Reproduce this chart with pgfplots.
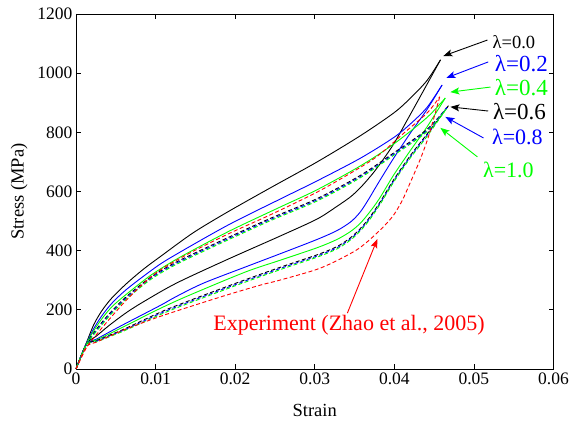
\documentclass[border=0pt]{standalone}
\usepackage{fontspec}
\setmainfont{Liberation Serif}
\usepackage{pgfplots}
\pgfplotsset{compat=1.18}
\usetikzlibrary{arrows.meta}
\definecolor{mgreen}{RGB}{0,255,0}
\definecolor{mblue}{RGB}{0,0,255}
\definecolor{mred}{RGB}{255,0,0}
\begin{document}
\begin{tikzpicture}
\useasboundingbox (-76bp,-53bp) rectangle (494bp,369bp);
\begin{axis}[
  scale only axis, width=477.5bp, height=355bp,
  xmin=0, xmax=0.06, ymin=0, ymax=1200,
  scaled x ticks=false, scaled y ticks=false,
  xtick={0,0.01,0.02,0.03,0.04,0.05,0.06},
  xticklabels={0,0.01,0.02,0.03,0.04,0.05,0.06},
  ytick={0,200,400,600,800,1000,1200},
  yticklabels={0,200,400,600,800,1000,1200},
  tick align=inside, major tick length=5bp,
  axis line style={line width=0.8bp},
  every tick/.style={black, line width=0.8bp},
  ticklabel style={font=\fontsize{17.5bp}{20bp}\selectfont},
  /pgf/number format/assume math mode=true,
  xlabel={Strain}, ylabel={Stress (MPa)},
  label style={font=\fontsize{18.5bp}{21bp}\selectfont},
  xlabel style={at={(axis description cs:0.5,-0.1155)}, anchor=center},
  ylabel style={at={(axis description cs:-0.119,0.5)}, anchor=center},
  clip=false,
  every axis plot/.append style={line width=0.9bp, smooth, tension=0.5},
  mdash/.style={dash pattern=on 4bp off 2.5bp},
]
% lambda = 0.0 (black solid)
\addplot[black] coordinates {(0,0) (0.0013,88) (0.0022,148) (0.0032,195) (0.0045,240) (0.0064,290) (0.0085,338) (0.0106,380) (0.0147,460) (0.019,530) (0.0244,612) (0.0303,700) (0.0357,788) (0.0399,865) (0.042,915) (0.0441,975) (0.0458,1045)};
\addplot[black] coordinates {(0.0458,1045) (0.0441,962) (0.042,860) (0.0399,760) (0.0379,682) (0.0368,645) (0.0357,612) (0.0345,582) (0.0328,550) (0.0303,507) (0.0257,450) (0.019,370) (0.0126,290) (0.0084,226) (0.0063,190) (0.0042,148) (0.0025,110) (0.0013,85) (0,0)};
% lambda = 0.2 (blue solid)
\addplot[mblue] coordinates {(0,0) (0.0013,86) (0.0022,135) (0.0032,178) (0.0045,222) (0.0063,268) (0.0093,330) (0.0118,375) (0.019,485) (0.0257,575) (0.0303,636) (0.0357,712) (0.0399,782) (0.042,828) (0.0441,884) (0.046,960)};
\addplot[mblue] coordinates {(0.046,960) (0.0441,877) (0.042,797) (0.0399,712) (0.0379,625) (0.0368,575) (0.0357,530) (0.0345,497) (0.0328,468) (0.0303,438) (0.0257,390) (0.0213,345) (0.016,290) (0.0126,245) (0.0106,215) (0.0063,155) (0.0042,125) (0.0025,100) (0.0013,84) (0,0)};
% lambda = 0.4 (green solid)
\addplot[mgreen] coordinates {(0,0) (0.0013,85) (0.0022,128) (0.0032,168) (0.0045,210) (0.0063,252) (0.0093,315) (0.0118,358) (0.0143,396) (0.0194,468) (0.0257,548) (0.0303,606) (0.0357,686) (0.0399,760) (0.0441,850) (0.0464,916)};
\addplot[mgreen] coordinates {(0.0464,916) (0.0441,818) (0.042,738) (0.0399,655) (0.0381,575) (0.0368,527) (0.0357,492) (0.0345,465) (0.0328,438) (0.0303,410) (0.0257,368) (0.0213,328) (0.0143,250) (0.0106,205) (0.0063,147) (0.0042,119) (0.0025,97) (0.0013,83) (0,0)};
% lambda = 0.6 (black dashed)
\addplot[black, mdash] coordinates {(0,0) (0.0013,85) (0.0022,121) (0.0032,156) (0.0045,196) (0.0063,244) (0.0093,309) (0.0118,350) (0.0143,384) (0.0194,448) (0.0244,509) (0.0303,576) (0.0357,654) (0.0399,730) (0.0441,810) (0.0468,890)};
\addplot[black, mdash] coordinates {(0.0468,890) (0.0441,794) (0.042,721) (0.0399,639) (0.0382,564) (0.0368,509) (0.0357,474) (0.0345,444) (0.0328,414) (0.0303,386) (0.026,347) (0.0213,302) (0.016,249) (0.0126,214) (0.0106,192) (0.0063,138) (0.0042,114) (0.0025,95) (0.0013,83) (0,0)};
% lambda = 0.8 (blue dashed)
\addplot[mblue, mdash] coordinates {(0,0) (0.0013,84) (0.0022,118) (0.0032,152) (0.0045,192) (0.0063,240) (0.0093,305) (0.0118,346) (0.0143,380) (0.0194,444) (0.0244,505) (0.0303,572) (0.0357,650) (0.0399,726) (0.0441,806) (0.0466,884)};
\addplot[mblue, mdash] coordinates {(0.0466,884) (0.0441,790) (0.042,717) (0.0399,635) (0.0382,560) (0.0368,505) (0.0357,470) (0.0345,440) (0.0328,410) (0.0303,382) (0.026,343) (0.0213,298) (0.016,245) (0.0126,210) (0.0106,188) (0.0063,135) (0.0042,112) (0.0025,93) (0.0013,82) (0,0)};
% lambda = 1.0 (green dashed)
\addplot[mgreen, mdash] coordinates {(0,0) (0.0013,83) (0.0022,115) (0.0032,148) (0.0045,188) (0.0063,236) (0.0093,301) (0.0118,342) (0.0143,376) (0.0194,440) (0.0244,501) (0.0303,568) (0.0357,646) (0.0399,722) (0.0441,802) (0.0465,878)};
\addplot[mgreen, mdash] coordinates {(0.0465,878) (0.0441,786) (0.042,713) (0.0399,631) (0.0382,556) (0.0368,501) (0.0357,466) (0.0345,436) (0.0328,406) (0.0303,378) (0.026,339) (0.0213,294) (0.016,241) (0.0126,206) (0.0106,184) (0.0063,132) (0.0042,109) (0.0025,91) (0.0013,81) (0,0)};
% Experiment (red dashed)
\addplot[mred, mdash] coordinates {(0,0) (0.0013,72) (0.0022,104) (0.0032,137) (0.0045,178) (0.0063,232) (0.0085,290) (0.0106,335) (0.0143,392) (0.0194,460) (0.0244,521) (0.0303,598) (0.0345,662) (0.037,703) (0.0386,735) (0.0411,795) (0.0441,865) (0.0457,920)};
\addplot[mred, mdash] coordinates {(0.0457,920) (0.0449,842) (0.0441,770) (0.0432,705) (0.042,630) (0.041,570) (0.0399,520) (0.0386,480) (0.0366,430) (0.0348,395) (0.0307,341) (0.0257,301) (0.0231,283) (0.0181,243) (0.0106,178) (0.0063,135) (0.0043,112) (0.0025,90) (0.0013,75) (0,0)};
% annotations
\tikzset{marr/.style={-{Stealth[length=9bp,width=7bp,inset=2bp]}, line width=0.9bp}}
\draw[marr, black] (axis cs:0.0517,1112) -- (axis cs:0.04616,1058);
\draw[marr, mblue] (axis cs:0.0518,1038) -- (axis cs:0.04654,984);
\draw[marr, mgreen] (axis cs:0.05208,953) -- (axis cs:0.04704,936);
\draw[marr, black] (axis cs:0.0518,872) -- (axis cs:0.04704,886);
\draw[marr, mblue] (axis cs:0.0512,781) -- (axis cs:0.04642,852);
\draw[marr, mgreen] (axis cs:0.05044,717) -- (axis cs:0.04579,815);
\draw[marr, mred] (axis cs:0.0341,189) -- (axis cs:0.03786,439);
\node[black, font=\fontsize{18.5bp}{20bp}\selectfont] at (axis cs:0.05503,1105) {λ=0.0};
\node[mblue, font=\fontsize{23bp}{24bp}\selectfont] at (axis cs:0.05597,1034) {λ=0.2};
\node[mgreen, font=\fontsize{23bp}{24bp}\selectfont] at (axis cs:0.05597,953) {λ=0.4};
\node[black, font=\fontsize{23bp}{24bp}\selectfont] at (axis cs:0.05572,869) {λ=0.6};
\node[mblue, font=\fontsize{22bp}{24bp}\selectfont] at (axis cs:0.05547,784) {λ=0.8};
\node[mgreen, font=\fontsize{22bp}{24bp}\selectfont] at (axis cs:0.05434,673) {λ=1.0};
\node[mred, font=\fontsize{22bp}{24bp}\selectfont] at (axis cs:0.0343,149) {Experiment (Zhao et al., 2005)};
\end{axis}
\end{tikzpicture}
\end{document}
